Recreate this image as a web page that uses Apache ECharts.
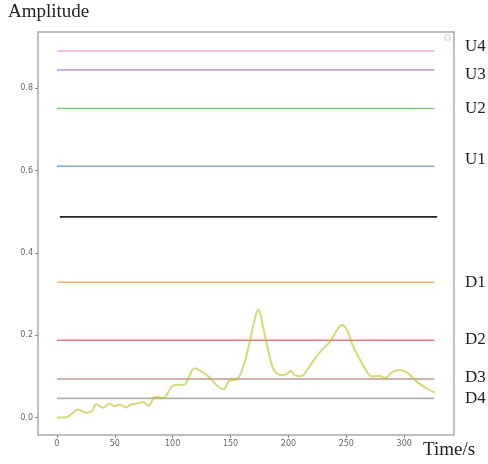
<!DOCTYPE html>
<html>
<head>
<meta charset="utf-8">
<title>Amplitude</title>
<script src="https://cdn.jsdelivr.net/npm/echarts@6/dist/echarts.min.js"></script>
<style>
  html, body { margin: 0; padding: 0; background: #fff; }
  #main { width: 488px; height: 464px; }
</style>
</head>
<body>
<div id="main"></div>
<script>
// threshold levels (top to bottom)
const levelNames = ['U4', 'U3', 'U2', 'U1', 'Mid', 'D1', 'D2', 'D3', 'D4']
const levelValues = [0.891, 0.845, 0.751, 0.611, 0.488, 0.329, 0.188, 0.094, 0.047]
const levelColors = ['#e377c2', '#9467bd', '#2ca02c', '#1f77b4', '#000000', '#ff7f0e', '#d62728', '#8c564b', '#7f7f7f']
const levelStart = [0, 0, 0, 0, 2.5, 0, 0, 0, 0]
const levelEnd = [326, 326, 326, 326, 328.5, 326, 326, 326, 326]

// signal: time (s) and amplitude
const signalTime = [0, 8, 13, 18, 21, 25, 30, 34, 40, 45, 50, 54, 60, 64, 71, 74.5, 79, 85, 92, 99, 104, 110, 113, 119, 125, 131, 138, 144, 149, 155, 160, 167, 170, 174, 178, 182.5, 187.5, 194, 198.5, 202, 205.5, 211, 217, 224, 230, 236, 242, 246, 250.5, 256, 262, 266, 272, 278, 283.5, 289, 295, 301, 305, 311, 319.5, 326.5]
const signalValue = [0, 0.001, 0.01, 0.02, 0.017, 0.012, 0.015, 0.033, 0.024, 0.034, 0.028, 0.032, 0.025, 0.032, 0.036, 0.038, 0.029, 0.051, 0.048, 0.075, 0.08, 0.08, 0.092, 0.12, 0.112, 0.1, 0.079, 0.069, 0.09, 0.093, 0.116, 0.189, 0.229, 0.263, 0.221, 0.164, 0.116, 0.104, 0.106, 0.114, 0.103, 0.101, 0.12, 0.148, 0.168, 0.185, 0.213, 0.225, 0.213, 0.172, 0.14, 0.12, 0.1, 0.102, 0.097, 0.109, 0.116, 0.112, 0.104, 0.087, 0.071, 0.061]

const xTicks = [0, 50, 100, 150, 200, 250, 300]
const yTicks = [0, 0.2, 0.4, 0.6, 0.8]

// label text positions (right side)
const labelY = [47, 75, 109, 160, null, 283, 340, 378, 399]

const myChart = echarts.init(document.getElementById('main'))

const series = levelValues.map((v, i) => ({
  name: levelNames[i],
  type: 'line',
  symbol: 'none',
  silent: true,
  data: [[levelStart[i], v], [levelEnd[i], v]],
  lineStyle: { color: levelColors[i], width: 1.6, opacity: i === 4 ? 0.85 : 0.6 }
}))
series.push({
  name: 'signal',
  type: 'line',
  symbol: 'none',
  smooth: 0.4,
  data: signalTime.map((t, i) => [t, signalValue[i]]),
  lineStyle: { color: '#bcbd22', width: 2, opacity: 0.6 }
})

const texts = [{
  type: 'text', left: 8, top: 3,
  style: { text: 'Amplitude', font: '19px "Liberation Serif"', fill: '#222' }
}, {
  type: 'text', left: 423, top: 441,
  style: { text: 'Time/s', font: '19px "Liberation Serif"', fill: '#222' }
}, {
  type: 'rect', shape: { x: 445, y: 35, width: 5, height: 5 },
  style: { fill: '#fff', stroke: '#ccc', lineWidth: 1 }
}]
levelNames.forEach((n, i) => {
  if (labelY[i] === null) return
  texts.push({
    type: 'text', left: 465, top: labelY[i] - 9,
    style: { text: n, font: '17px "Liberation Serif"', fill: '#222' }
  })
})

const option = {
  animation: false,
  grid: {
    left: 38, right: 34, top: 32, bottom: 29,
    show: true, borderColor: '#aaa', borderWidth: 1.5
  },
  xAxis: {
    type: 'value',
    min: -16.3,
    max: 343,
    splitLine: { show: false },
    axisLine: { show: false, onZero: false },
    axisTick: { show: true, length: 3, customValues: xTicks, lineStyle: { color: '#888' } },
    axisLabel: {
      customValues: xTicks,
      fontSize: 8, color: '#666', margin: 5,
      fontFamily: 'DejaVu Sans'
    }
  },
  yAxis: {
    type: 'value',
    min: -0.042,
    max: 0.937,
    splitLine: { show: false },
    axisLine: { show: false, onZero: false },
    axisTick: { show: true, length: 3, customValues: yTicks, lineStyle: { color: '#888' } },
    axisLabel: {
      customValues: yTicks,
      fontSize: 8, color: '#666', margin: 5,
      fontFamily: 'DejaVu Sans',
      formatter: (v) => v.toFixed(1)
    }
  },
  graphic: texts,
  series: series
}
myChart.setOption(option)
</script>
</body>
</html>
